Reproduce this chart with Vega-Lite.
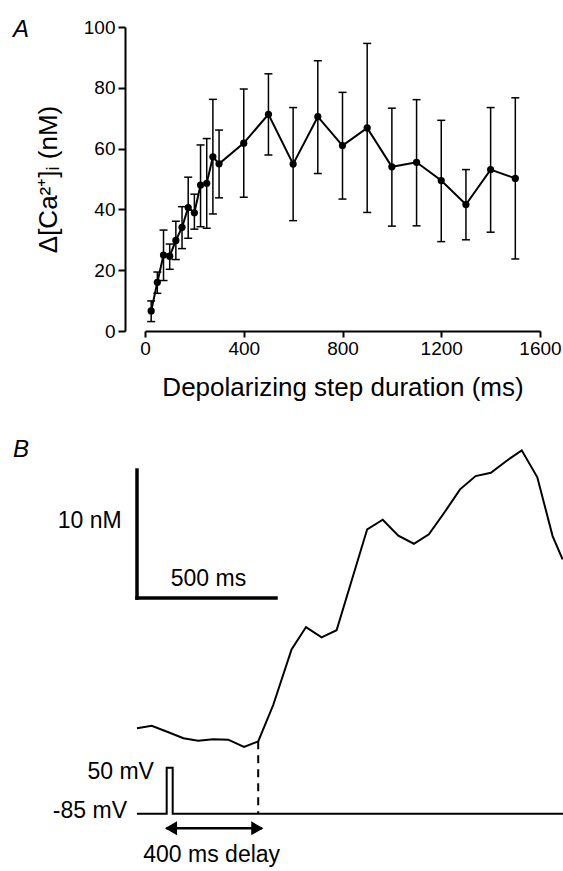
{
  "$schema": "https://vega.github.io/schema/vega-lite/v6.json",
  "autosize": {"type": "pad"},
  "padding": {"left": 13, "top": 18, "right": 0, "bottom": 0},
  "background": "white",
  "bounds": "flush",
  "spacing": 116,
  "config": {
    "view": {"stroke": null},
    "font": "Liberation Sans",
    "axis": {
      "domainColor": "black", "tickColor": "black", "labelColor": "black", "titleColor": "black",
      "domainWidth": 2, "tickWidth": 2, "labelFont": "Liberation Sans", "titleFont": "Liberation Sans",
      "titleFontWeight": "normal", "grid": false
    }
  },
  "datasets": {
    "steps": [
      {"duration": 25, "mean": 6.6, "lo": 3.1, "hi": 9.9},
      {"duration": 50, "mean": 16.0, "lo": 12.4, "hi": 19.4},
      {"duration": 75, "mean": 25.0, "lo": 16.6, "hi": 33.2},
      {"duration": 100, "mean": 24.6, "lo": 20.3, "hi": 28.6},
      {"duration": 125, "mean": 29.8, "lo": 23.5, "hi": 36.1},
      {"duration": 150, "mean": 34.1, "lo": 27.1, "hi": 40.9},
      {"duration": 175, "mean": 40.6, "lo": 30.5, "hi": 50.6},
      {"duration": 200, "mean": 38.9, "lo": 33.5, "hi": 45.0},
      {"duration": 225, "mean": 48.0, "lo": 34.3, "hi": 61.2},
      {"duration": 250, "mean": 48.6, "lo": 33.8, "hi": 63.3},
      {"duration": 275, "mean": 57.3, "lo": 38.5, "hi": 76.2},
      {"duration": 300, "mean": 55.0, "lo": 43.8, "hi": 66.1},
      {"duration": 400, "mean": 61.8, "lo": 44.0, "hi": 79.6},
      {"duration": 500, "mean": 71.3, "lo": 57.9, "hi": 84.6},
      {"duration": 600, "mean": 54.9, "lo": 36.3, "hi": 73.5},
      {"duration": 700, "mean": 70.5, "lo": 51.8, "hi": 88.9},
      {"duration": 800, "mean": 61.0, "lo": 43.4, "hi": 78.5},
      {"duration": 900, "mean": 66.8, "lo": 39.0, "hi": 94.6},
      {"duration": 1000, "mean": 54.0, "lo": 34.5, "hi": 73.3},
      {"duration": 1100, "mean": 55.5, "lo": 34.6, "hi": 76.1},
      {"duration": 1200, "mean": 49.5, "lo": 29.4, "hi": 69.3},
      {"duration": 1300, "mean": 41.6, "lo": 30.0, "hi": 53.1},
      {"duration": 1400, "mean": 53.1, "lo": 32.5, "hi": 73.5},
      {"duration": 1500, "mean": 50.2, "lo": 23.7, "hi": 76.7}
    ],
    "trace": [
      {"t": 0, "c": 0},
      {"t": 53, "c": 0.2},
      {"t": 113, "c": -0.31},
      {"t": 167, "c": -0.78},
      {"t": 220, "c": -0.97},
      {"t": 274, "c": -0.86},
      {"t": 328, "c": -0.89},
      {"t": 385, "c": -1.46},
      {"t": 436, "c": -1.02},
      {"t": 490, "c": 1.82},
      {"t": 556, "c": 6.17},
      {"t": 608, "c": 7.91},
      {"t": 664, "c": 7.11},
      {"t": 718, "c": 7.66},
      {"t": 828, "c": 15.55},
      {"t": 884, "c": 16.3},
      {"t": 940, "c": 15.05},
      {"t": 996, "c": 14.42},
      {"t": 1050, "c": 15.16},
      {"t": 1107, "c": 16.9},
      {"t": 1162, "c": 18.67},
      {"t": 1218, "c": 19.71},
      {"t": 1273, "c": 19.97},
      {"t": 1330, "c": 20.91},
      {"t": 1384, "c": 21.72},
      {"t": 1440, "c": 19.61},
      {"t": 1495, "c": 15.02},
      {"t": 1531, "c": 13.2}
    ],
    "stim": [
      {"i": 0, "t": 0, "mv": -85},
      {"i": 1, "t": 106.8, "mv": -85},
      {"i": 2, "t": 106.8, "mv": 50},
      {"i": 3, "t": 128.4, "mv": 50},
      {"i": 4, "t": 128.4, "mv": -85},
      {"i": 5, "t": 1532.4, "mv": -85}
    ]
  },
  "vconcat": [
    {
      "width": 395,
      "height": 304,
      "layer": [
        {
          "data": {"name": "steps"},
          "mark": {"type": "rule", "stroke": "black", "strokeWidth": 1.5},
          "encoding": {
            "x": {
              "field": "duration", "type": "quantitative",
              "scale": {"domain": [0, 1600], "nice": false, "zero": false},
              "title": "Depolarizing step duration (ms)",
              "axis": {"values": [0, 400, 800, 1200, 1600], "format": "d", "tickSize": 6, "labelPadding": 2, "labelFontSize": 19, "titleFontSize": 26, "titlePadding": 16, "labelFlush": false}
            },
            "y": {
              "field": "lo", "type": "quantitative", "scale": {"domain": [0, 100], "nice": false, "zero": false},
              "title": "Δ[Ca²⁺]ᵢ (nM)",
              "axis": {"values": [0, 20, 40, 60, 80, 100], "offset": 20, "tickSize": 7, "labelPadding": 3, "labelFontSize": 19, "titleFontSize": 26, "titlePadding": 22}
            },
            "y2": {"field": "hi"}
          }
        },
        {
          "data": {"name": "steps"},
          "mark": {"type": "point", "shape": "stroke", "size": 64, "stroke": "black", "strokeWidth": 1.5, "opacity": 1},
          "encoding": {
            "x": {"field": "duration", "type": "quantitative", "title": "Depolarizing step duration (ms)"},
            "y": {"field": "lo", "type": "quantitative", "title": "Δ[Ca²⁺]ᵢ (nM)"}
          }
        },
        {
          "data": {"name": "steps"},
          "mark": {"type": "point", "shape": "stroke", "size": 64, "stroke": "black", "strokeWidth": 1.5, "opacity": 1},
          "encoding": {
            "x": {"field": "duration", "type": "quantitative", "title": "Depolarizing step duration (ms)"},
            "y": {"field": "hi", "type": "quantitative", "title": "Δ[Ca²⁺]ᵢ (nM)"}
          }
        },
        {
          "data": {"name": "steps"},
          "mark": {"type": "line", "stroke": "black", "strokeWidth": 2},
          "encoding": {
            "x": {"field": "duration", "type": "quantitative", "title": "Depolarizing step duration (ms)"},
            "y": {"field": "mean", "type": "quantitative", "title": "Δ[Ca²⁺]ᵢ (nM)"}
          }
        },
        {
          "data": {"name": "steps"},
          "mark": {"type": "circle", "size": 52, "color": "black", "opacity": 1},
          "encoding": {
            "x": {"field": "duration", "type": "quantitative", "title": "Depolarizing step duration (ms)"},
            "y": {"field": "mean", "type": "quantitative", "title": "Δ[Ca²⁺]ᵢ (nM)"}
          }
        },
        {
          "data": {"values": [{"panel": "A"}]},
          "mark": {"type": "text", "align": "left", "baseline": "alphabetic", "fontSize": 24, "fontStyle": "italic", "color": "black", "font": "Liberation Sans"},
          "encoding": {
            "x": {"datum": -534.6, "type": "quantitative", "title": "Depolarizing step duration (ms)"},
            "y": {"datum": 96.7, "type": "quantitative", "title": "Δ[Ca²⁺]ᵢ (nM)"},
            "text": {"field": "panel"}
          }
        }
      ]
    },
    {
      "width": 418,
      "height": 424,
      "resolve": {"scale": {"y": "independent"}},
      "layer": [
        {
          "layer": [
            {
              "data": {"name": "trace"},
              "mark": {"type": "line", "stroke": "black", "strokeWidth": 2},
              "encoding": {
                "x": {"field": "t", "type": "quantitative", "scale": {"domain": [28.8, 1532.4], "nice": false, "zero": false}, "axis": null},
                "y": {"field": "c", "type": "quantitative", "scale": {"domain": [-11.15, 21.98], "nice": false, "zero": false}, "axis": null}
              }
            },
            {
              "data": {"values": [{}]},
              "mark": {"type": "rule", "stroke": "black", "strokeWidth": 3.5, "strokeCap": "square"},
              "encoding": {
                "x": {"datum": 0, "type": "quantitative", "scale": {"domain": [28.8, 1532.4], "nice": false, "zero": false}, "axis": null},
                "y": {"datum": 10.18, "type": "quantitative", "scale": {"domain": [-11.15, 21.98], "nice": false, "zero": false}, "axis": null},
                "y2": {"datum": 20.18}
              }
            },
            {
              "data": {"values": [{}]},
              "mark": {"type": "rule", "stroke": "black", "strokeWidth": 3.5, "strokeCap": "square"},
              "encoding": {
                "x": {"datum": 0, "type": "quantitative", "scale": {"domain": [28.8, 1532.4], "nice": false, "zero": false}, "axis": null},
                "x2": {"datum": 500},
                "y": {"datum": 10.18, "type": "quantitative", "scale": {"domain": [-11.15, 21.98], "nice": false, "zero": false}, "axis": null}
              }
            },
            {
              "data": {"values": [{}]},
              "mark": {"type": "rule", "stroke": "black", "strokeWidth": 2, "strokeDash": [8, 6]},
              "encoding": {
                "x": {"datum": 436, "type": "quantitative", "scale": {"domain": [28.8, 1532.4], "nice": false, "zero": false}, "axis": null},
                "y": {"datum": -1.02, "type": "quantitative", "scale": {"domain": [-11.15, 21.98], "nice": false, "zero": false}, "axis": null},
                "y2": {"datum": -6.67}
              }
            },
            {
              "data": {"values": [{}]},
              "mark": {"type": "text", "text": "B", "align": "left", "baseline": "alphabetic", "fontSize": 24, "fontStyle": "italic", "color": "black", "font": "Liberation Sans"},
              "encoding": {
                "x": {"datum": -446, "type": "quantitative", "scale": {"domain": [28.8, 1532.4], "nice": false, "zero": false}, "axis": null},
                "y": {"datum": 21.2, "type": "quantitative", "scale": {"domain": [-11.15, 21.98], "nice": false, "zero": false}, "axis": null}
              }
            },
            {
              "data": {"values": [{}]},
              "mark": {"type": "text", "text": "10 nM", "align": "right", "baseline": "middle", "fontSize": 23, "color": "black", "font": "Liberation Sans"},
              "encoding": {
                "x": {"datum": -55, "type": "quantitative", "scale": {"domain": [28.8, 1532.4], "nice": false, "zero": false}, "axis": null},
                "y": {"datum": 16.22, "type": "quantitative", "scale": {"domain": [-11.15, 21.98], "nice": false, "zero": false}, "axis": null}
              }
            },
            {
              "data": {"values": [{}]},
              "mark": {"type": "text", "text": "500 ms", "align": "center", "baseline": "middle", "fontSize": 23, "color": "black", "font": "Liberation Sans"},
              "encoding": {
                "x": {"datum": 257, "type": "quantitative", "scale": {"domain": [28.8, 1532.4], "nice": false, "zero": false}, "axis": null},
                "y": {"datum": 11.66, "type": "quantitative", "scale": {"domain": [-11.15, 21.98], "nice": false, "zero": false}, "axis": null}
              }
            }
          ]
        },
        {
          "layer": [
            {
              "data": {"name": "stim"},
              "mark": {"type": "line", "stroke": "black", "strokeWidth": 2},
              "encoding": {
                "x": {"field": "t", "type": "quantitative", "scale": {"domain": [28.8, 1532.4], "nice": false, "zero": false}, "axis": null},
                "y": {"field": "mv", "type": "quantitative", "scale": {"domain": [-253.2, 991.3], "nice": false, "zero": false}, "axis": null},
                "order": {"field": "i"}
              }
            },
            {
              "data": {"values": [{}]},
              "mark": {"type": "rule", "stroke": "black", "strokeWidth": 2.5},
              "encoding": {
                "x": {"datum": 105, "type": "quantitative", "scale": {"domain": [28.8, 1532.4], "nice": false, "zero": false}, "axis": null},
                "x2": {"datum": 450},
                "y": {"datum": -127.9, "type": "quantitative", "scale": {"domain": [-253.2, 991.3], "nice": false, "zero": false}, "axis": null}
              }
            },
            {
              "data": {"values": [{}]},
              "mark": {"type": "point", "shape": "triangle-left", "size": 196, "filled": true, "color": "black", "opacity": 1, "xOffset": 6},
              "encoding": {
                "x": {"datum": 100.7, "type": "quantitative", "scale": {"domain": [28.8, 1532.4], "nice": false, "zero": false}, "axis": null},
                "y": {"datum": -127.9, "type": "quantitative", "scale": {"domain": [-253.2, 991.3], "nice": false, "zero": false}, "axis": null}
              }
            },
            {
              "data": {"values": [{}]},
              "mark": {"type": "point", "shape": "triangle-right", "size": 196, "filled": true, "color": "black", "opacity": 1, "xOffset": -6},
              "encoding": {
                "x": {"datum": 454.3, "type": "quantitative", "scale": {"domain": [28.8, 1532.4], "nice": false, "zero": false}, "axis": null},
                "y": {"datum": -127.9, "type": "quantitative", "scale": {"domain": [-253.2, 991.3], "nice": false, "zero": false}, "axis": null}
              }
            },
            {
              "data": {"values": [{}]},
              "mark": {"type": "text", "text": "50 mV", "align": "right", "baseline": "middle", "fontSize": 23, "color": "black", "font": "Liberation Sans", "dy": 4},
              "encoding": {
                "x": {"datum": 61, "type": "quantitative", "scale": {"domain": [28.8, 1532.4], "nice": false, "zero": false}, "axis": null},
                "y": {"datum": 50, "type": "quantitative", "scale": {"domain": [-253.2, 991.3], "nice": false, "zero": false}, "axis": null}
              }
            },
            {
              "data": {"values": [{}]},
              "mark": {"type": "text", "text": "-85 mV", "align": "right", "baseline": "middle", "fontSize": 23, "color": "black", "font": "Liberation Sans", "dy": -3},
              "encoding": {
                "x": {"datum": -36, "type": "quantitative", "scale": {"domain": [28.8, 1532.4], "nice": false, "zero": false}, "axis": null},
                "y": {"datum": -85, "type": "quantitative", "scale": {"domain": [-253.2, 991.3], "nice": false, "zero": false}, "axis": null}
              }
            },
            {
              "data": {"values": [{}]},
              "mark": {"type": "text", "text": "400 ms delay", "align": "center", "baseline": "middle", "fontSize": 23, "color": "black", "font": "Liberation Sans"},
              "encoding": {
                "x": {"datum": 268.7, "type": "quantitative", "scale": {"domain": [28.8, 1532.4], "nice": false, "zero": false}, "axis": null},
                "y": {"datum": -205.3, "type": "quantitative", "scale": {"domain": [-253.2, 991.3], "nice": false, "zero": false}, "axis": null}
              }
            }
          ]
        }
      ]
    }
  ]
}
